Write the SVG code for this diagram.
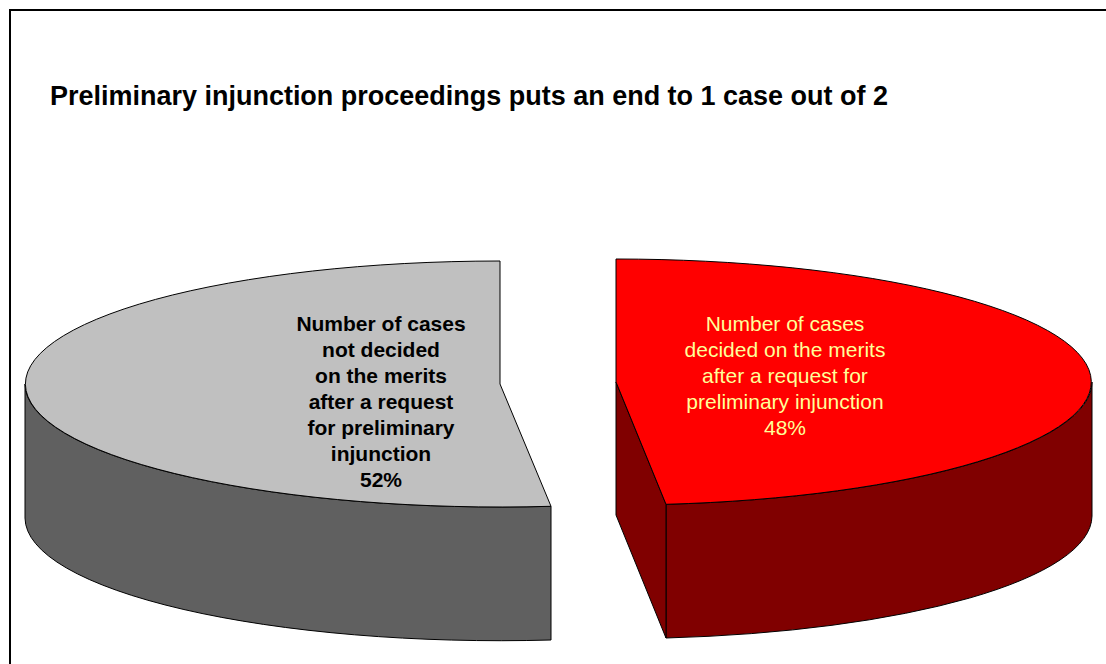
<svg xmlns="http://www.w3.org/2000/svg" width="1106" height="664" viewBox="0 0 1106 664">
<style>
.edge{stroke:#000;stroke-width:1;stroke-linejoin:round}
.title{font-family:"Liberation Sans",Arial,sans-serif;font-size:27px;font-weight:bold;fill:#000}
.lblg{font-family:"Liberation Sans",Arial,sans-serif;font-size:21px;font-weight:bold;fill:#000;text-anchor:middle}
.lblr{font-family:"Liberation Sans",Arial,sans-serif;font-size:21px;fill:#FFFF99;text-anchor:middle}
</style>
<rect x="0" y="0" width="1106" height="664" fill="#fff"/>
<rect x="10" y="10" width="1110" height="670" fill="none" stroke="#000" stroke-width="2"/>
<text class="title" x="50" y="105" textLength="838" lengthAdjust="spacingAndGlyphs">Preliminary injunction proceedings puts an end to 1 case out of 2</text>
<g id="slice-not-decided">
<path class="edge" fill="#606060" d="M25,384 A475,123 0 0,0 551,506.3 L551,640 A475,123 0 0,1 25,518 Z"/>
<path class="edge" fill="#C0C0C0" d="M500,384 L500,261 A475,123 0 1,0 551,506.3 Z"/>
<text class="lblg" x="381" y="331">Number of cases</text>
<text class="lblg" x="381" y="357">not decided</text>
<text class="lblg" x="381" y="383">on the merits</text>
<text class="lblg" x="381" y="409">after a request</text>
<text class="lblg" x="381" y="435">for preliminary</text>
<text class="lblg" x="381" y="461">injunction</text>
<text class="lblg" x="381" y="487">52%</text>
</g>
<g id="slice-decided">
<path class="edge" fill="#800000" d="M1092,382 A476,123 0 0,1 666,504.3 L666,638 A476,123 0 0,0 1092,516 Z"/>
<path class="edge" fill="#800000" d="M616,382 L666,504.3 L666,638 L616,515 Z"/>
<path class="edge" fill="#FF0000" d="M616,382 L616,259 A476,123 0 0,1 666,504.3 Z"/>
<text class="lblr" x="785" y="331">Number of cases</text>
<text class="lblr" x="785" y="357">decided on the merits</text>
<text class="lblr" x="785" y="383">after a request for</text>
<text class="lblr" x="785" y="409">preliminary injunction</text>
<text class="lblr" x="785" y="435">48%</text>
</g>
<g id="connectors"></g>
</svg>
